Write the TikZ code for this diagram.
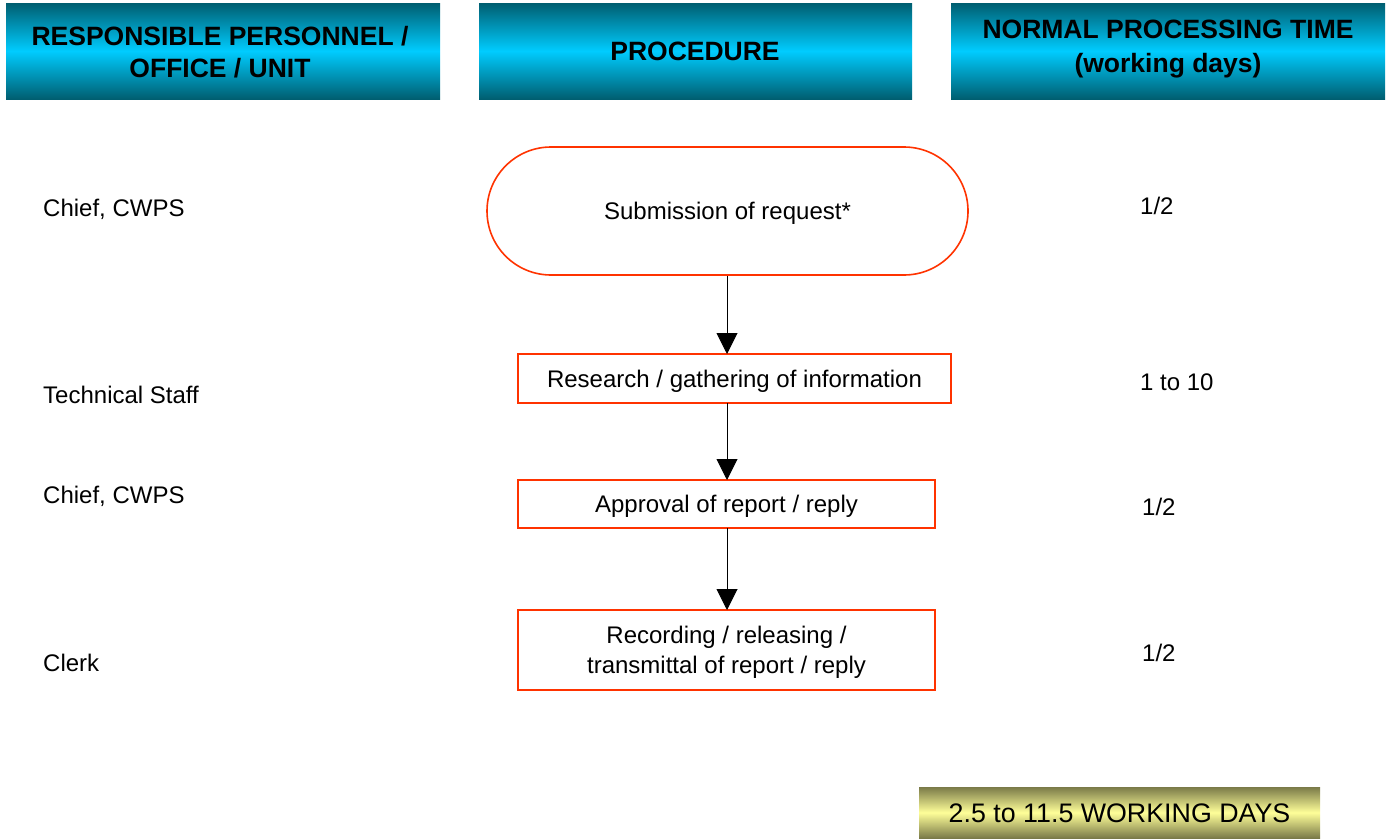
\documentclass[tikz,border=0pt]{standalone}
\usepackage{fontspec}
\setmainfont{Liberation Sans}
\usetikzlibrary{arrows.meta,shapes.misc}
\begin{document}
\begin{tikzpicture}[x=1pt,y=-1pt,
  hdrbox/.style={top color=hdrdark,bottom color=hdrdark,middle color=hdrlight},
  hdr/.style={font=\bfseries\fontsize{26.5}{32}\selectfont,align=center,inner sep=0pt},
  proc/.style={draw=procred,line width=1.6pt,fill=white,align=center,
    font=\fontsize{24}{29.5}\selectfont,inner sep=0pt,text depth=0pt},
  lbl/.style={anchor=west,font=\fontsize{24}{29}\selectfont,inner sep=0pt},
  arr/.style={-{Triangle[width=21pt,length=21pt]},line width=0.9pt}]
\definecolor{hdrdark}{HTML}{005E70}
\definecolor{hdrlight}{HTML}{00CCFF}
\definecolor{procred}{HTML}{FF3300}
\definecolor{oldark}{HTML}{7A7A48}
\definecolor{ollight}{HTML}{FFFF99}
\useasboundingbox (0,0) rectangle (1388,838);
% headers
\path[hdrbox] (6,3) rectangle (440,99);
\node[hdr] (h1) at (220,52) {RESPONSIBLE PERSONNEL /\\OFFICE / UNIT};
\path[hdrbox] (479,3) rectangle (912,99);
\node[hdr] (h2) at (695,51) {PROCEDURE};
\path[hdrbox] (951,3) rectangle (1385,99);
\node[hdr,font=\bfseries\fontsize{26.5}{34}\selectfont] (h3) at (1168,49) {NORMAL PROCESSING TIME\\(working days)};
% procedure
\node[proc,rounded rectangle,minimum width=481pt,minimum height=128pt] (s1) at (727.5,211) {Submission of request*};
\node[proc,minimum width=433pt,minimum height=49pt] (s2) at (734.5,378.5) {Research / gathering of information};
\node[proc,minimum width=417pt,minimum height=48pt] (s3) at (726.5,504) {Approval of report / reply};
\node[proc,minimum width=417pt,minimum height=80pt] (s4) at (726.5,650) {Recording / releasing /\\transmittal of report / reply};
\draw[arr] (s1.south -| 727,0) -- (727,354);
\draw[arr] (727,403) -- (727,480);
\draw[arr] (727,528) -- (727,610);
% left labels
\node[lbl] (l1) at (43,209) {Chief, CWPS};
\node[lbl] (l2) at (43,395) {Technical Staff};
\node[lbl] (l3) at (43,496) {Chief, CWPS};
\node[lbl] (l4) at (43,663) {Clerk};
% right labels
\node[lbl] (r1) at (1140,206) {1/2};
\node[lbl] (r2) at (1140,382) {1 to 10};
\node[lbl] (r3) at (1142,507) {1/2};
\node[lbl] (r4) at (1142,653) {1/2};
% total
\path[top color=oldark,bottom color=oldark,middle color=ollight] (919,787) rectangle (1320,838);
\node[font=\fontsize{26.8}{32}\selectfont,inner sep=0pt] (tot) at (1119.5,813) {2.5 to 11.5 WORKING DAYS};
\end{tikzpicture}
\end{document}
